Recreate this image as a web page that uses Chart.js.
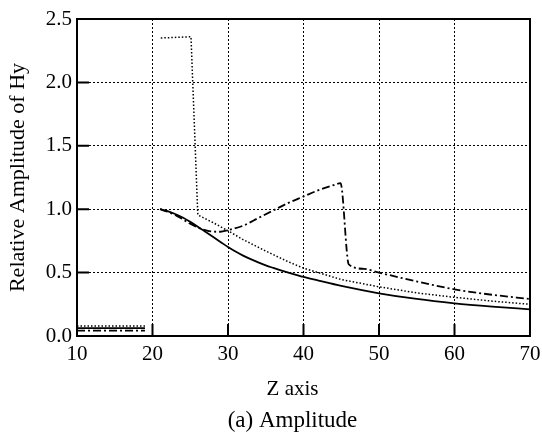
<!DOCTYPE html>
<html>
<head>
<meta charset="utf-8">
<script src="https://cdn.jsdelivr.net/npm/chart.js@4"></script>
<style>
  html, body { margin: 0; padding: 0; background: #fff; }
  #wrap { width: 542px; height: 446px; }
</style>
</head>
<body>
<div id="wrap"><canvas id="amp_canvas"></canvas></div>
<script>
// tick labels
const xTicks = [10, 20, 30, 40, 50, 60, 70];
const yTicks = [0.0, 0.5, 1.0, 1.5, 2.0, 2.5];

// solid curve
const solidZ = [10, 19, 20, 21, 22, 23, 24, 25, 26, 27, 28, 29, 30, 31, 32, 33, 34, 35, 36, 37, 38, 40, 42, 45, 50, 55, 60, 65, 70];
const solidA = [0.062, 0.062, null, 1.0, 0.985, 0.962, 0.934, 0.9, 0.862, 0.822, 0.782, 0.742, 0.702, 0.666, 0.634, 0.606, 0.58, 0.557, 0.537, 0.518, 0.5, 0.466, 0.437, 0.395, 0.337, 0.292, 0.258, 0.232, 0.21];

// dotted curve
const dotZ = [10, 19, 20, 21.1, 25.1, 26, 28, 30, 32, 35, 38, 40, 45, 50, 55, 60, 65, 70];
const dotA = [0.078, 0.078, null, 2.35, 2.36, 0.955, 0.895, 0.83, 0.76, 0.67, 0.585, 0.535, 0.445, 0.388, 0.34, 0.305, 0.275, 0.25];

// dash-dot curve
const dashDotZ = [10, 19, 20, 21, 22, 23, 24, 25, 26, 27, 28, 29, 30, 32, 34, 36, 38, 40, 42, 44, 44.9, 46, 48, 50, 55, 60, 65, 70];
const dashDotA = [0.042, 0.042, null, 1.0, 0.98, 0.955, 0.92, 0.885, 0.855, 0.835, 0.823, 0.822, 0.835, 0.87, 0.93, 0.99, 1.05, 1.1, 1.15, 1.19, 1.205, 0.565, 0.53, 0.5, 0.43, 0.368, 0.325, 0.292];

const FONT = "'Liberation Serif', 'DejaVu Serif', serif";

function toPoints(zs, as) {
  return zs.map((z, i) => ({ x: z, y: as[i] }));
}

// box, inward tick marks and the texts under the axis
const frameAndTicks = {
  id: 'frameAndTicks',
  afterDraw(chart) {
    const { ctx, chartArea: a, scales: { x, y } } = chart;
    ctx.save();
    ctx.strokeStyle = '#000';
    ctx.lineWidth = 2;
    ctx.strokeRect(a.left, a.top, a.right - a.left, a.bottom - a.top);
    ctx.beginPath();
    xTicks.slice(1, -1).forEach(v => {
      const px = x.getPixelForValue(v);
      ctx.moveTo(px, a.bottom);
      ctx.lineTo(px, a.bottom - 12);
    });
    yTicks.slice(1, -1).forEach(v => {
      const py = y.getPixelForValue(v);
      ctx.moveTo(a.left, py);
      ctx.lineTo(a.left + 12, py);
    });
    ctx.stroke();

    const cx = (a.left + a.right) / 2 - 11;
    ctx.fillStyle = '#000';
    ctx.textAlign = 'center';
    ctx.textBaseline = 'middle';
    ctx.font = '21px ' + FONT;
    ctx.fillText('Z axis', cx, a.bottom + 53);
    ctx.font = '23px ' + FONT;
    ctx.fillText('(a) Amplitude', cx, a.bottom + 85);
    ctx.restore();
  }
};

new Chart(document.getElementById('amp_canvas'), {
  type: 'line',
  data: {
    datasets: [{
      label: 'solid',
      data: toPoints(solidZ, solidA),
      borderColor: '#000',
      borderWidth: 1.8,
      pointRadius: 0,
      cubicInterpolationMode: 'monotone',
      spanGaps: false
    }, {
      label: 'dotted',
      data: toPoints(dotZ, dotA),
      borderColor: '#000',
      borderWidth: 1.5,
      borderDash: [1.5, 2],
      pointRadius: 0,
      tension: 0,
      spanGaps: false
    }, {
      label: 'dash-dot',
      data: toPoints(dashDotZ, dashDotA),
      borderColor: '#000',
      borderWidth: 1.8,
      borderDash: [8, 3, 2, 3],
      pointRadius: 0,
      cubicInterpolationMode: 'monotone',
      spanGaps: false
    }]
  },
  options: {
    responsive: true,
    maintainAspectRatio: false,
    animation: false,
    layout: {
      padding: { left: 0, right: 12, top: 19, bottom: 0 }
    },
    scales: {
      x: {
        type: 'linear',
        min: 10,
        max: 70,
        afterFit(scale) {
          scale.height = 110;
          scale.paddingRight = 0;
          scale.paddingLeft = 0;
        },
        afterBuildTicks(scale) { scale.ticks = xTicks.map(v => ({ value: v })); },
        grid: { color: '#000', lineWidth: 1, drawTicks: false },
        border: { display: false, dash: [2, 2] },
        ticks: {
          color: '#000',
          padding: 6,
          maxRotation: 0,
          font: { family: FONT, size: 21 }
        }
      },
      y: {
        min: 0,
        max: 2.5,
        afterFit(scale) { scale.width = 77; },
        afterBuildTicks(scale) { scale.ticks = yTicks.map(v => ({ value: v })); },
        grid: { color: '#000', lineWidth: 1, drawTicks: false },
        border: { display: false, dash: [2, 2] },
        ticks: {
          color: '#000',
          padding: 5,
          font: { family: FONT, size: 21 },
          callback: v => v.toFixed(1)
        },
        title: {
          display: true,
          text: 'Relative Amplitude of Hy',
          color: '#000',
          padding: { top: 5, bottom: 4 },
          font: { family: FONT, size: 22 }
        }
      }
    },
    plugins: {
      legend: { display: false },
      tooltip: { enabled: false }
    }
  },
  plugins: [frameAndTicks]
});
</script>
</body>
</html>
